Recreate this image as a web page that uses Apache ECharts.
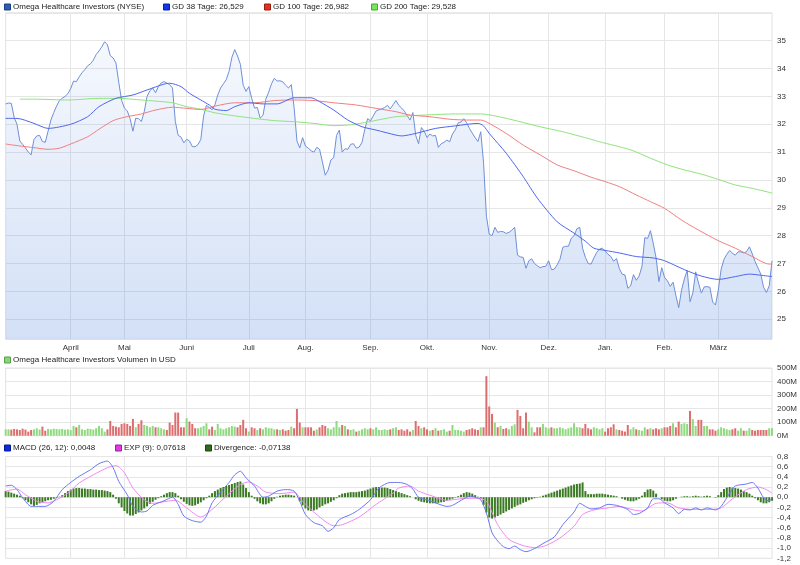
<!DOCTYPE html>
<html><head><meta charset="utf-8">
<script src="https://cdn.jsdelivr.net/npm/echarts@6/dist/echarts.min.js"></script>
<style>html,body{margin:0;padding:0;background:#fff}#c{width:800px;height:565px}</style>
</head><body><div id="c"></div>
<script>
// ---- data (trading-day index based) ----
const monthLabels = [[23,'April'],[42,'Mai'],[64,'Juni'],[86,'Juli'],[106,'Aug.'],[129,'Sep.'],[149,'Okt.'],[171,'Nov.'],[192,'Dez.'],[212,'Jan.'],[233,'Feb.'],[252,'März']];

const price = [
32.73,32.76,32.75,32.25,32.0,31.4,31.28,31.15,31.0,30.9,
31.45,31.58,31.6,31.38,31.35,31.75,32.15,32.42,32.65,32.85,
32.93,33.0,33.1,33.28,33.55,33.53,33.7,33.85,33.96,34.1,
34.17,34.3,34.5,34.63,34.78,34.96,34.85,34.46,34.38,34.2,
33.5,32.85,32.58,32.48,32.2,31.75,32.22,32.2,32.1,32.45,
33.0,33.2,33.3,33.13,33.35,33.48,33.53,33.48,33.42,33.3,
32.1,31.6,31.54,31.33,31.46,31.4,31.2,31.19,31.27,31.45,
32.3,32.68,32.6,32.52,32.7,33.05,33.3,33.45,33.6,33.9,
34.4,34.68,34.45,34.15,33.4,33.18,33.35,32.93,32.58,32.6,
32.22,32.32,32.9,33.15,33.45,33.65,33.55,33.56,33.52,33.4,
33.3,33.42,32.6,31.4,31.15,31.52,31.22,31.14,31.05,31.0,
31.17,31.1,30.65,30.17,30.35,30.72,30.8,31.6,31.79,31.0,
31.12,31.1,31.28,31.3,31.14,31.18,31.35,31.82,32.2,32.12,
32.3,32.48,32.52,32.55,32.6,32.68,32.55,32.7,32.85,32.68,
32.58,32.47,32.3,32.15,32.42,31.6,31.3,31.88,31.75,31.52,
31.65,31.58,31.6,31.17,31.3,31.35,31.43,31.37,31.65,31.8,
32.05,32.08,32.2,32.05,31.85,31.68,31.52,31.38,31.73,30.6,
28.7,28.05,28.0,28.3,28.12,28.15,28.14,28.08,28.12,28.2,
28.3,27.3,27.24,27.22,26.83,27.1,27.17,27.0,26.92,26.85,
26.89,26.9,27.1,26.78,26.8,26.95,27.15,27.58,27.62,27.62,
27.91,28.0,28.25,28.3,27.55,27.22,27.0,26.98,27.2,27.4,
27.52,27.55,27.45,27.33,27.25,27.08,27.18,26.82,26.62,26.59,
26.11,26.2,26.6,26.4,26.55,26.9,27.93,27.9,28.18,27.72,
27.2,26.35,26.85,26.5,26.38,26.18,26.33,25.85,25.42,26.05,
26.45,26.75,25.63,25.95,26.7,26.3,25.94,26.16,26.17,26.15,
25.62,25.51,26.05,26.8,27.15,27.33,27.47,27.37,27.3,27.42,
27.42,27.38,27.43,27.6,27.35,27.07,26.85,26.62,26.15,25.96,
26.2,27.1];

const gd38 = [[0,32.21],[4,32.21],[10,32.03],[15,31.85],[23,32.0],[29,32.27],[33,32.63],[39,32.93],[45,33.05],[50,33.23],[56,33.44],[58,33.47],[62,33.35],[65,33.11],[69,32.87],[72,32.69],[74,32.54],[78,32.49],[81,32.63],[86,32.77],[91,32.73],[96,32.73],[102,32.95],[108,32.95],[111,32.81],[116,32.51],[121,32.15],[126,31.91],[131,31.79],[138,31.61],[140,31.58],[145,31.67],[152,31.85],[159,31.94],[167,32.03],[169,31.94],[171,31.67],[177,30.96],[183,30.12],[188,29.35],[195,28.5],[201,28.09],[205,27.8],[208,27.55],[212,27.47],[217,27.38],[223,27.25],[229,27.2],[233,27.1],[240,26.78],[246,26.55],[252,26.43],[258,26.53],[263,26.62],[267,26.58],[271,26.53]];
const gd100 = [[0,31.29],[5,31.22],[10,31.16],[15,31.1],[19,31.14],[23,31.29],[29,31.55],[33,31.82],[38,32.13],[42,32.25],[48,32.37],[53,32.51],[59,32.61],[64,32.57],[69,32.53],[74,32.65],[81,32.77],[88,32.77],[95,32.85],[102,32.87],[109,32.85],[116,32.77],[124,32.69],[131,32.57],[138,32.45],[143,32.33],[150,32.27],[157,32.18],[163,32.15],[168,32.15],[171,32.03],[177,31.67],[183,31.25],[189,30.9],[195,30.54],[201,30.33],[207,30.1],[212,29.94],[217,29.76],[223,29.46],[228,29.22],[233,28.98],[239,28.56],[245,28.2],[252,27.82],[258,27.55],[264,27.25],[270,26.98],[271,26.98]];
const gd200 = [[5,32.9],[10,32.9],[22,32.87],[33,32.93],[40,32.93],[48,32.87],[53,32.83],[59,32.77],[64,32.63],[69,32.54],[74,32.41],[81,32.3],[88,32.21],[95,32.13],[102,32.09],[109,32.03],[116,31.95],[121,31.97],[127,32.06],[133,32.18],[138,32.27],[142,32.3],[148,32.33],[159,32.37],[168,32.37],[177,32.21],[189,31.91],[197,31.73],[207,31.46],[210,31.37],[221,31.08],[228,30.78],[234,30.54],[240,30.36],[246,30.21],[252,30.02],[258,29.82],[264,29.7],[271,29.53]];

const volume = [
47,47,45,50,47,42,52,45,30,42,
47,55,45,67,37,50,47,52,50,47,
50,45,47,42,72,62,80,47,42,52,
50,45,55,72,55,30,47,109,72,67,
62,87,92,87,72,124,62,87,114,79,
72,62,72,62,62,55,47,42,97,79,
171,171,62,62,129,104,87,55,55,62,
72,92,47,67,42,87,55,47,55,62,
72,67,62,79,117,55,30,62,55,42,
55,47,62,55,55,47,47,42,47,37,
42,67,55,198,97,62,62,62,62,37,
47,62,79,72,55,47,62,109,62,79,
72,47,42,47,30,37,47,55,47,55,
47,62,42,42,47,42,47,55,62,42,
47,37,47,30,42,109,72,55,62,47,
37,42,55,37,42,47,30,37,79,42,
42,37,30,42,47,55,47,42,62,62,
440,216,161,97,62,72,50,55,47,72,
84,191,146,55,171,104,62,25,62,62,
87,62,55,62,55,55,62,55,47,55,
62,92,62,62,55,87,55,47,62,55,
47,55,30,55,62,84,47,42,37,30,
79,47,62,47,42,37,62,47,55,47,
55,47,55,62,62,72,92,62,104,87,
92,87,183,122,72,117,117,72,72,47,
47,37,47,62,55,47,42,47,55,37,
55,37,37,55,42,37,42,42,42,42,
55,55];

const macd = [[0,0.22],[2,0.235],[4,0.15],[6,-0.01],[9,-0.18],[11,-0.18],[14,-0.18],[17,-0.08],[20,0.15],[23,0.29],[26,0.41],[30,0.54],[33,0.66],[36,0.71],[38,0.58],[40,0.31],[43,0.05],[45,-0.18],[48,-0.29],[50,-0.27],[52,-0.16],[56,-0.07],[59,0.0],[61,-0.14],[63,-0.37],[66,-0.46],[69,-0.49],[71,-0.37],[73,-0.11],[76,0.1],[79,0.29],[81,0.44],[83,0.51],[85,0.38],[88,0.22],[91,0.0],[93,0.02],[96,0.12],[99,0.15],[102,0.12],[104,-0.08],[106,-0.34],[109,-0.5],[112,-0.56],[114,-0.67],[116,-0.6],[118,-0.44],[122,-0.34],[125,-0.24],[129,-0.05],[132,0.18],[136,0.29],[139,0.29],[142,0.25],[144,0.16],[146,0.0],[149,-0.05],[152,-0.11],[156,-0.18],[158,-0.16],[162,-0.03],[164,0.02],[166,0.0],[168,-0.05],[170,-0.31],[172,-0.7],[174,-0.86],[176,-0.97],[178,-1.01],[180,-0.96],[182,-1.03],[184,-1.07],[187,-1.01],[190,-0.91],[194,-0.78],[197,-0.54],[201,-0.29],[203,-0.12],[205,-0.18],[207,-0.23],[210,-0.21],[213,-0.14],[216,-0.16],[220,-0.24],[222,-0.34],[224,-0.32],[227,-0.21],[229,-0.03],[231,-0.03],[233,-0.11],[236,-0.21],[238,-0.32],[240,-0.24],[242,-0.25],[244,-0.21],[246,-0.25],[248,-0.21],[251,-0.25],[253,-0.18],[256,0.08],[258,0.22],[262,0.26],[264,0.29],[266,0.18],[268,-0.01],[270,-0.08],[271,0.005]];
const signal = [[0,0.12],[4,0.16],[7,0.05],[11,-0.08],[15,-0.11],[18,-0.05],[22,0.08],[26,0.28],[31,0.44],[36,0.58],[39,0.62],[42,0.48],[45,0.18],[49,-0.05],[52,-0.12],[57,-0.08],[60,-0.06],[64,-0.21],[69,-0.39],[73,-0.24],[78,0.02],[83,0.25],[86,0.3],[89,0.22],[92,0.1],[97,0.07],[102,0.1],[105,-0.08],[110,-0.34],[116,-0.56],[119,-0.54],[125,-0.39],[131,-0.14],[137,0.08],[139,0.18],[143,0.22],[146,0.12],[151,0.02],[156,-0.06],[161,-0.03],[167,-0.02],[170,-0.08],[174,-0.54],[178,-0.83],[183,-0.95],[187,-0.99],[191,-0.95],[196,-0.8],[201,-0.57],[204,-0.34],[208,-0.25],[213,-0.21],[217,-0.18],[222,-0.25],[225,-0.27],[230,-0.12],[234,-0.11],[238,-0.21],[243,-0.24],[249,-0.24],[253,-0.21],[257,-0.03],[262,0.15],[266,0.2],[269,0.15],[271,0.08]];
const divergence = [
0.12,0.11,0.09,0.07,0.05,0.03,
-0.02,-0.06,-0.10,-0.14,-0.17,
-0.15,-0.12,-0.10,-0.08,-0.06,-0.05,
-0.03,-0.01,0.01,
0.04,0.08,0.12,0.15,0.17,0.18,0.18,0.17,0.17,0.16,0.16,0.15,0.15,0.14,0.14,0.13,0.12,0.10,0.05,
-0.03,-0.12,-0.2,-0.27,-0.32,-0.36,-0.36,-0.33,-0.3,-0.26,-0.22,-0.18,-0.13,-0.09,-0.05,-0.02,
0.02,0.05,0.08,0.1,0.1,0.08,0.03,
-0.04,-0.09,-0.13,-0.16,-0.17,-0.16,-0.13,-0.10,-0.06,-0.02,
0.03,0.08,0.12,0.15,0.18,0.2,0.22,0.24,0.26,0.28,0.3,0.31,0.25,0.18,0.1,0.03,
-0.03,-0.08,-0.12,-0.14,-0.14,-0.12,-0.08,-0.03,
0.01,0.03,0.04,0.05,0.05,0.04,0.03,0.0,
-0.08,-0.16,-0.22,-0.26,-0.27,-0.26,-0.24,-0.2,-0.17,-0.14,-0.12,-0.09,-0.06,-0.02,
0.04,0.07,0.08,0.09,0.1,0.1,0.1,0.11,0.12,0.13,0.15,0.17,0.19,0.2,0.2,0.19,0.19,0.18,0.16,0.14,0.12,0.1,0.08,0.06,
0.04,0.02,0.0,
-0.04,-0.07,-0.09,-0.1,-0.11,-0.12,-0.12,-0.12,-0.11,-0.1,-0.09,-0.07,-0.05,-0.03,-0.01,
0.02,0.05,0.08,0.1,0.09,0.07,0.04,0.01,
-0.03,-0.15,-0.3,-0.4,-0.42,-0.4,-0.37,-0.34,-0.31,-0.28,-0.25,-0.22,-0.19,-0.16,-0.14,-0.11,-0.09,-0.06,-0.04,-0.02,-0.01,
0.01,0.03,0.05,0.07,0.09,0.11,0.13,0.15,0.17,0.19,0.21,0.23,0.25,0.26,0.27,0.29,0.12,
0.06,0.06,0.06,0.07,0.07,0.07,0.06,0.05,0.04,0.03,0.02,0.0,
-0.03,-0.05,-0.07,-0.08,-0.08,-0.06,-0.03,
0.03,0.1,0.15,0.16,0.13,0.07,
0.0,-0.04,-0.07,-0.08,-0.08,-0.06,-0.03,
0.0,0.01,0.02,0.02,0.01,0.02,0.03,0.02,0.01,0.02,0.03,0.02,0.0,-0.01,
0.04,0.1,0.16,0.19,0.2,0.19,0.18,0.17,0.15,0.12,0.1,0.07,0.03,
-0.02,-0.06,-0.1,-0.12,-0.12,-0.1,-0.07];

const legendRows = [
  {y: 7, items: [[4,'#2b5db5','#1c3f82','Omega Healthcare Investors (NYSE)'],[163,'#1236f0','#0a1f9a','GD 38 Tage: 26,529'],[264,'#e3301f','#9a1d12','GD 100 Tage: 26,982'],[371,'#79e35d','#48a535','GD 200 Tage: 29,528']]},
  {y: 360, items: [[4,'#8ad57a','#55a048','Omega Healthcare Investors Volumen in USD']]},
  {y: 448, items: [[4,'#0b2be6','#061a90','MACD (26, 12): 0,0048'],[115,'#e33be3','#962696','EXP (9): 0,07618'],[205,'#2e6b1d','#1c4512','Divergence: -0,07138']]}
];

// ---- chart ----
const FONT = '"Liberation Sans", Arial, sans-serif';
const FS = 8;
const days = price.map((_, i) => String(i));
const monthAt = new Map(monthLabels);
const isMonth = (i) => monthAt.has(i);
const GRIDLINE = '#e6e6e6';
const L = 5.66, R = 800 - 772.05;

const grid = [
  {left: L, right: R, top: 12.8, height: 326.5},
  {left: L, right: R, top: 368, height: 67.7},
  {left: L, right: R, top: 456.5, height: 101.8}
].map(g => Object.assign(g, {show: true, borderColor: '#e2e2e2', borderWidth: 1, containLabel: false}));

function xAx(gi, labels) {
  return {
    type: 'category', gridIndex: gi, data: days, boundaryGap: false,
    axisLine: {show: false}, axisTick: {show: false},
    axisLabel: {show: labels, interval: (i) => isMonth(i), formatter: (v, i) => monthAt.get(i) || '',
      color: '#333', fontSize: FS, fontFamily: FONT, margin: 4},
    splitLine: {show: true, interval: (i) => isMonth(i), lineStyle: {color: GRIDLINE, width: 1}}
  };
}
const yLabel = {color: '#333', fontSize: FS, fontFamily: FONT, margin: 5};
const comma = (v) => { if (Math.abs(v) < 1e-9) return '0,0'; return v.toFixed(1).replace('.', ','); };

const volData = volume.map((v, i) => ({
  value: v,
  itemStyle: {color: (i === 0 || price[i] >= price[i - 1]) ? '#8fd97f' : '#dc6e6e'}
}));

const graphic = [];
legendRows.forEach(row => row.items.forEach(([x, fill, stroke, text]) => {
  graphic.push({type: 'rect', shape: {x: x + 0.5, y: row.y - 3, width: 6, height: 6},
    style: {fill: fill, stroke: stroke, lineWidth: 1}, silent: true});
  graphic.push({type: 'text', x: x + 9, y: row.y, silent: true,
    style: {text: text, fill: '#222', fontSize: FS, fontFamily: FONT,
      align: 'left', verticalAlign: 'middle', textAlign: 'left', textVerticalAlign: 'middle'}});
}));

const option = {
  animation: false,
  backgroundColor: '#fff',
  grid: grid,
  graphic: graphic,
  xAxis: [xAx(0, true), xAx(1, false), xAx(2, false)],
  yAxis: [
    {type: 'value', gridIndex: 0, position: 'right', min: 24.28, max: 36, minInterval: 1, maxInterval: 1, splitNumber: 12,
      axisLine: {show: false}, axisTick: {show: false},
      axisLabel: Object.assign({}, yLabel, {showMinLabel: false, showMaxLabel: false,
        formatter: (v) => (Math.abs(v - Math.round(v)) < 1e-6 && v < 35.5) ? String(Math.round(v)) : ''}),
      splitLine: {lineStyle: {color: GRIDLINE}}},
    {type: 'value', gridIndex: 1, position: 'right', min: 0, max: 500, interval: 100,
      axisLine: {show: false}, axisTick: {show: false},
      axisLabel: Object.assign({}, yLabel, {formatter: (v) => Math.round(v) + 'M'}),
      splitLine: {lineStyle: {color: GRIDLINE}}},
    {type: 'value', gridIndex: 2, position: 'right', min: -1.2, max: 0.8, interval: 0.2,
      axisLine: {show: false}, axisTick: {show: false},
      axisLabel: Object.assign({}, yLabel, {formatter: comma}),
      splitLine: {lineStyle: {color: GRIDLINE}}}
  ],
  series: [
    {name: 'Omega Healthcare Investors (NYSE)', type: 'line', xAxisIndex: 0, yAxisIndex: 0, data: price,
      showSymbol: false, lineStyle: {color: '#6e8fd8', width: 1},
      areaStyle: {color: new echarts.graphic.LinearGradient(0, 0, 0, 1, [
        {offset: 0, color: 'rgba(58,118,218,0.07)'}, {offset: 1, color: 'rgba(58,118,218,0.32)'}])}, z: 2},
    {name: 'GD 200', type: 'line', xAxisIndex: 0, yAxisIndex: 0, data: gd200, showSymbol: false, smooth: 0.25,
      lineStyle: {color: '#8fe47c', width: 1}, z: 3},
    {name: 'GD 100', type: 'line', xAxisIndex: 0, yAxisIndex: 0, data: gd100, showSymbol: false, smooth: 0.25,
      lineStyle: {color: '#f07f7f', width: 1}, z: 3},
    {name: 'GD 38', type: 'line', xAxisIndex: 0, yAxisIndex: 0, data: gd38, showSymbol: false, smooth: 0.25,
      lineStyle: {color: '#4f66ee', width: 1}, z: 4},
    {name: 'Volumen', type: 'bar', xAxisIndex: 1, yAxisIndex: 1, data: volData, barWidth: 2},
    {name: 'Divergence', type: 'bar', xAxisIndex: 2, yAxisIndex: 2, data: divergence, barWidth: 2,
      itemStyle: {color: '#3a7a22'}},
    {name: 'MACD', type: 'line', xAxisIndex: 2, yAxisIndex: 2, data: macd, showSymbol: false, smooth: 0.25,
      lineStyle: {color: '#6b78f2', width: 1}, z: 4},
    {name: 'EXP', type: 'line', xAxisIndex: 2, yAxisIndex: 2, data: signal, showSymbol: false, smooth: 0.25,
      lineStyle: {color: '#ef8aef', width: 1}, z: 3}
  ]
};
const chart = echarts.init(document.getElementById('c'), null, {renderer: 'canvas'});
chart.setOption(option);
</script>
</body></html>
